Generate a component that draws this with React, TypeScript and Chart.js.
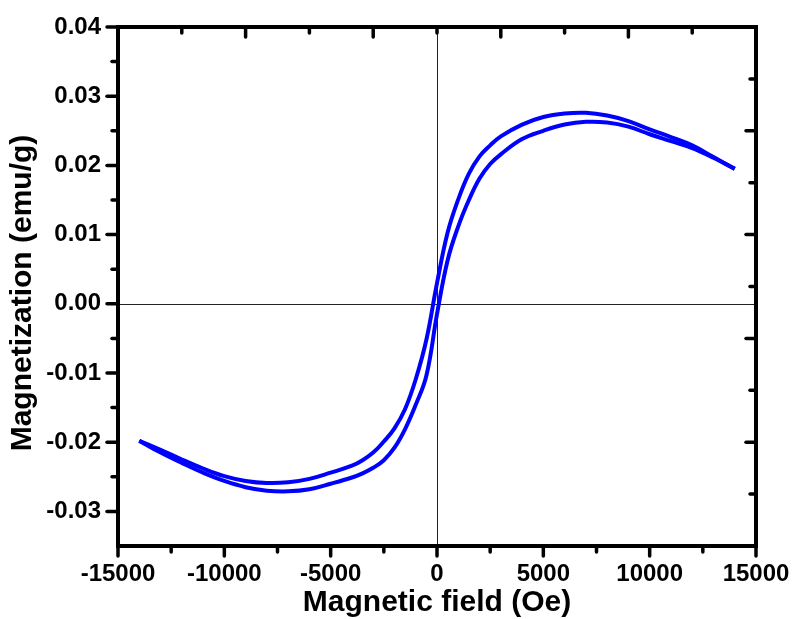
import { useEffect, useRef } from "react";
import { Chart, registerables } from "chart.js";

Chart.register(...registerables);

// Magnetic field grid (Oe)
const fieldOe = [
  -14000, -13000, -12000, -11000, -10000, -9000, -8000, -7000, -6000, -5000,
  -4000, -3500, -3000, -2500, -2000, -1500, -1000, -500, 0, 500, 1000, 1500,
  2000, 2500, 3000, 4000, 5000, 6000, 7000, 8000, 9000, 10000, 11000, 12000,
  13000, 14000,
];

// Upper branch (field sweeping down) – emu/g
const descendingBranch = [
  -0.0198, -0.0211, -0.0225, -0.0238, -0.0249, -0.0256, -0.0259, -0.0258,
  -0.0253, -0.0244, -0.0234, -0.0226, -0.0215, -0.0199, -0.018, -0.0152,
  -0.0109, -0.0052, 0.003, 0.0103, 0.0151, 0.0188, 0.0213, 0.0229, 0.0242,
  0.0259, 0.027, 0.0275, 0.0276, 0.0272, 0.0264, 0.0252, 0.0241, 0.0229,
  0.0212, 0.0195,
];

// Lower branch (field sweeping up) – emu/g
const ascendingBranch = [
  -0.0198, -0.0215, -0.023, -0.0244, -0.0256, -0.0265, -0.027, -0.0271,
  -0.0268, -0.026, -0.0251, -0.0245, -0.0237, -0.0226, -0.0208, -0.0181,
  -0.0146, -0.0104, -0.0015, 0.0063, 0.0112, 0.015, 0.0181, 0.0202, 0.0216,
  0.0238, 0.025, 0.0259, 0.0263, 0.0262, 0.0256, 0.0245, 0.0235, 0.0225,
  0.0211, 0.0195,
];

const xTickValues = [-15000, -10000, -5000, 0, 5000, 10000, 15000];
const xMinorTickValues = [-12500, -7500, -2500, 2500, 7500, 12500];
const yTickValues = [-0.03, -0.02, -0.01, 0, 0.01, 0.02, 0.03, 0.04];
const yMinorTickValues = [-0.025, -0.015, -0.005, 0.005, 0.015, 0.025, 0.035];
const topMajorTickValues = [-15000, -9000, -3000, 3000, 9000, 15000];
const topMinorTickValues = [-12000, -6000, 0, 6000, 12000];
const rightMajorTickValues = [0.04, 0.025, 0.01, -0.005, -0.02, -0.035];
const rightMinorTickValues = [0.0325, 0.0175, 0.0025, -0.0125, -0.0275];

const xTitle = "Magnetic field (Oe)";
const yTitle = "Magnetization (emu/g)";

const FONT = '"Liberation Sans", Arial, sans-serif';

const framePlugin = {
  id: "frame",
  beforeDatasetsDraw(chart: any) {
    const { ctx, chartArea, scales } = chart;
    const { left, right, top, bottom } = chartArea;
    const x0 = Math.round(scales.x.getPixelForValue(0)) + 0.5;
    const y0 = Math.round(scales.y.getPixelForValue(0)) + 0.5;
    ctx.save();
    ctx.strokeStyle = "#222";
    ctx.lineWidth = 1;
    ctx.beginPath();
    ctx.moveTo(x0, top);
    ctx.lineTo(x0, bottom);
    ctx.moveTo(left, y0);
    ctx.lineTo(right, y0);
    ctx.stroke();
    ctx.restore();
  },
  afterDraw(chart: any) {
    const { ctx, chartArea, scales } = chart;
    const { left, right, top, bottom } = chartArea;
    const xs = scales.x;
    const ys = scales.y;
    ctx.save();
    ctx.strokeStyle = "#000";
    ctx.lineCap = "round";
    const tick = (x1: number, y1: number, x2: number, y2: number, w: number) => {
      ctx.lineWidth = w;
      ctx.beginPath();
      ctx.moveTo(x1, y1);
      ctx.lineTo(x2, y2);
      ctx.stroke();
    };
    xTickValues.forEach((v) => {
      const p = xs.getPixelForValue(v);
      tick(p, bottom, p, bottom + 10, 3.5);
    });
    xMinorTickValues.forEach((v) => {
      const p = xs.getPixelForValue(v);
      tick(p, bottom, p, bottom + 6, 3.5);
    });
    yTickValues.forEach((v) => {
      const p = ys.getPixelForValue(v);
      tick(left, p, left - 11, p, 3.5);
    });
    yMinorTickValues.forEach((v) => {
      const p = ys.getPixelForValue(v);
      tick(left, p, left - 6, p, 3.5);
    });
    topMajorTickValues.forEach((v) => {
      const p = xs.getPixelForValue(v);
      tick(p, top, p, top + 10, 3.5);
    });
    topMinorTickValues.forEach((v) => {
      const p = xs.getPixelForValue(v);
      tick(p, top, p, top + 6, 3.5);
    });
    rightMajorTickValues.forEach((v) => {
      const p = ys.getPixelForValue(v);
      tick(right, p, right - 10, p, 3.5);
    });
    rightMinorTickValues.forEach((v) => {
      const p = ys.getPixelForValue(v);
      tick(right, p, right - 6, p, 3.5);
    });
    ctx.lineCap = "butt";
    ctx.lineJoin = "miter";
    ctx.lineWidth = 4;
    ctx.strokeRect(left, top, right - left, bottom - top);

    // y axis title
    ctx.fillStyle = "#000";
    ctx.font = `bold 30px ${FONT}`;
    ctx.textAlign = "center";
    ctx.textBaseline = "middle";
    ctx.translate(22.5, 293);
    ctx.rotate(-Math.PI / 2);
    ctx.fillText(yTitle, 0, 0);
    ctx.restore();
  },
};

export default function App() {
  const canvasRef = useRef<HTMLCanvasElement | null>(null);

  useEffect(() => {
    const canvas = canvasRef.current;
    if (!canvas) return;
    const upper = fieldOe.map((h, i) => ({ x: h, y: descendingBranch[i] }));
    const lower = fieldOe.map((h, i) => ({ x: h, y: ascendingBranch[i] }));
    const chart = new Chart(canvas, {
      type: "scatter",
      data: {
        datasets: [
          {
            label: "Descending",
            data: upper,
            showLine: true,
            borderColor: "#0000ff",
            backgroundColor: "#0000ff",
            borderWidth: 4,
            pointRadius: 0,
            tension: 0.4,
          },
          {
            label: "Ascending",
            data: lower,
            showLine: true,
            borderColor: "#0000ff",
            backgroundColor: "#0000ff",
            borderWidth: 4,
            pointRadius: 0,
            tension: 0.4,
          },
        ],
      },
      options: {
        responsive: false,
        animation: false,
        devicePixelRatio: 1,
        layout: { padding: { left: 0, right: 36, top: 27, bottom: 0 } },
        plugins: {
          legend: { display: false },
          tooltip: { enabled: false },
          title: { display: false },
        },
        scales: {
          x: {
            type: "linear",
            min: -15000,
            max: 15000,
            afterBuildTicks: (s: any) => {
              s.ticks = xTickValues.map((v) => ({ value: v }));
            },
            afterFit: (s: any) => {
              s.height = 73;
              s.paddingLeft = 0;
              s.paddingRight = 0;
            },
            grid: { display: false, drawTicks: false },
            border: { display: false },
            ticks: {
              autoSkip: false,
              maxRotation: 0,
              padding: 14,
              color: "#000",
              font: { family: FONT, size: 24, weight: "bold" },
              callback: (v: any) => String(v),
            },
            title: {
              display: true,
              text: xTitle,
              color: "#000",
              font: { family: FONT, size: 30, weight: "bold", lineHeight: 1 },
              padding: { top: 0, bottom: 1 },
            },
          },
          y: {
            type: "linear",
            min: -0.035,
            max: 0.04,
            afterBuildTicks: (s: any) => {
              s.ticks = yTickValues.map((v) => ({ value: v }));
            },
            afterFit: (s: any) => {
              s.width = 118;
              s.paddingTop = 0;
              s.paddingBottom = 0;
            },
            grid: { display: false, drawTicks: false },
            border: { display: false },
            ticks: {
              autoSkip: false,
              padding: 17,
              color: "#000",
              font: { family: FONT, size: 24, weight: "bold" },
              callback: (v: any) => Number(v).toFixed(2),
            },
            title: { display: false },
          },
        },
      },
      plugins: [framePlugin],
    } as any);
    return () => chart.destroy();
  }, []);

  return (
    <div style={{ position: "fixed", left: 0, top: 0, width: 792, height: 619, background: "#fff" }}>
      <canvas ref={canvasRef} width={792} height={619} />
    </div>
  );
}
